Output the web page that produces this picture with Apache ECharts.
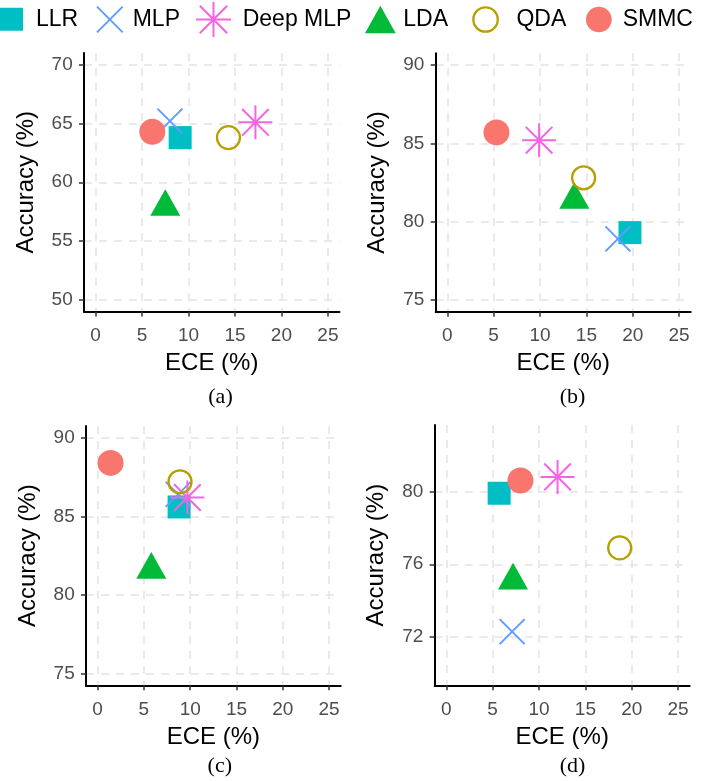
<!DOCTYPE html>
<html><head><meta charset="utf-8">
<script src="https://cdn.jsdelivr.net/npm/echarts@6/dist/echarts.min.js"></script>
<style>html,body{margin:0;padding:0;background:#fff}#c{width:706px;height:781px}</style>
</head><body><div id="c"></div>
<script>
// ---- data ----
const methods = ['LLR', 'MLP', 'Deep MLP', 'LDA', 'QDA', 'SMMC'];
const eceA = [9.1, 8.0, 17.2, 7.5, 14.3, 6.1];
const accA = [63.8, 65.2, 65.1, 57.9, 63.8, 64.3];
const eceB = [19.7, 18.4, 9.9, 13.7, 14.7, 5.3];
const accB = [79.3, 78.9, 85.2, 81.4, 82.8, 85.7];
const eceC = [8.8, 8.7, 9.7, 5.8, 8.9, 1.4];
const accC = [85.6, 86.4, 86.2, 81.6, 87.2, 88.4];
const eceD = [5.7, 7.1, 12.0, 7.2, 18.7, 8.0];
const accD = [79.9, 72.3, 80.8, 75.1, 76.9, 80.6];
const xTicks = [0, 5, 10, 15, 20, 25];
const xLim = [0, 25];
const yTicksA = [50, 55, 60, 65, 70];
const yLimA = [50, 70];
const yTicksB = [75, 80, 85, 90];
const yLimB = [75, 90];
const yTicksC = [75, 80, 85, 90];
const yLimC = [75, 90];
const yTicksD = [72, 76, 80];
const yLimD = [70, 83];
const captions = ['(a)', '(b)', '(c)', '(d)'];

// ---- styles ----
const colors = ['#00BFC4', '#619CFF', '#F564E3', '#00BA38', '#B79F00', '#F8766D'];
const symbols = [
  {symbol: 'path://M0 0L23 0L23 23L0 23Z', size: 23, fill: true, keep: true},
  {symbol: 'path://M0 0L24 24M24 0L0 24', size: 25, stroke: 2, keep: true},
  {symbol: 'path://M0 17L34 17M17 0L17 34M3.7 3.7L30.3 30.3M30.3 3.7L3.7 30.3', size: 34, stroke: 2, keep: true},
  {symbol: 'path://M15 0L30 26.7L0 26.7Z', size: 30, fill: true, offset: [0, -4.45], keep: true},
  {symbol: 'circle', size: 23, stroke: 2.3},
  {symbol: 'circle', size: 26, fill: true}
];
const FONT = '"Liberation Sans", Arial, Helvetica, sans-serif';
const grids = [
  {left: 84, top: 53, width: 255.5, height: 258.5},
  {left: 435.7, top: 53.3, width: 255, height: 258.4},
  {left: 86, top: 426, width: 254.7, height: 259.3},
  {left: 434.7, top: 425, width: 255, height: 260.3}
];
const captionPos = [[220.5, 397], [572.5, 397], [219.8, 766.7], [572.5, 766.7]];
// left edge of icon, icon box width, drawn height (incl. stroke), text padding
const legendPos = [
  {left: 0, size: 23, h: 23.5, pad: 8},
  {left: 96, size: 25.7, h: 27.7, pad: 5},
  {left: 195, size: 35, h: 37, pad: 6.7},
  {left: 365, size: 30.7, h: 27.3, pad: 2.6},
  {left: 472.2, size: 24.4, h: 26.7, pad: 13.7},
  {left: 586, size: 25.7, h: 25.7, pad: 6}
];
const LEGEND_H = 35;

const panels = [
  {ece: eceA, acc: accA, yTicks: yTicksA, yLim: yLimA},
  {ece: eceB, acc: accB, yTicks: yTicksB, yLim: yLimB},
  {ece: eceC, acc: accC, yTicks: yTicksC, yLim: yLimC},
  {ece: eceD, acc: accD, yTicks: yTicksD, yLim: yLimD}
];
const expand = lim => [lim[0] - 0.05 * (lim[1] - lim[0]), lim[1] + 0.05 * (lim[1] - lim[0])];

const splitLine = {show: true, lineStyle: {color: '#E3E3E3', width: 1.5, type: [8, 7]}};
const axisLine = {show: true, onZero: false, lineStyle: {color: '#000', width: 2}};
const axisTickBase = {show: true, length: 5, inside: false, lineStyle: {color: '#333', width: 1.5}};

const xAxis = [], yAxis = [], series = [], graphic = [], legend = [];
panels.forEach((p, k) => {
  const xr = expand(xLim), yr = expand(p.yLim);
  xAxis.push({
    type: 'value', gridIndex: k, min: xr[0], max: xr[1],
    axisLine, splitLine,
    axisTick: Object.assign({customValues: xTicks}, axisTickBase),
    axisLabel: {customValues: xTicks, color: '#4D4D4D', fontSize: 19, fontFamily: FONT, margin: 14.5},
    name: 'ECE (%)', nameLocation: 'middle', nameGap: 40,
    nameTextStyle: {color: '#000', fontSize: 24, fontFamily: FONT}
  });
  yAxis.push({
    type: 'value', gridIndex: k, min: yr[0], max: yr[1],
    axisLine, splitLine,
    axisTick: Object.assign({customValues: p.yTicks}, axisTickBase),
    axisLabel: {customValues: p.yTicks, color: '#4D4D4D', fontSize: 19, fontFamily: FONT, margin: 11.3},
    name: 'Accuracy (%)', nameLocation: 'middle', nameGap: 46, nameRotate: 90,
    nameTextStyle: {color: '#000', fontSize: 24, fontFamily: FONT}
  });
  methods.forEach((m, i) => {
    const s = symbols[i];
    series.push({
      type: 'scatter', name: m, xAxisIndex: k, yAxisIndex: k,
      data: [[p.ece[i], p.acc[i]]],
      symbol: s.symbol, symbolSize: s.size, symbolKeepAspect: !!s.keep,
      symbolOffset: s.offset || [0, 0],
      itemStyle: s.fill ? {color: colors[i], opacity: 1}
                        : {color: 'rgba(0,0,0,0)', borderColor: colors[i], borderWidth: s.stroke, opacity: 1},
      emphasis: {disabled: true}, z: 2 + i
    });
  });
  graphic.push({
    type: 'text', x: captionPos[k][0], y: captionPos[k][1],
    style: {text: captions[k], font: '22px "Liberation Serif", "Times New Roman", serif',
            fill: '#000', align: 'center', verticalAlign: 'middle'}
  });
});

methods.forEach((m, i) => {
  const lp = legendPos[i], s = symbols[i];
  legend.push({
    data: [m], left: lp.left, top: 19.5 - lp.h / 2, padding: 0,
    itemWidth: lp.size, itemHeight: LEGEND_H, symbolKeepAspect: true,
    selectedMode: false, orient: 'horizontal',
    itemStyle: s.fill ? {borderWidth: 0} : {borderWidth: s.stroke},
    textStyle: {color: '#000', fontSize: 23, fontFamily: FONT, padding: [0, 0, 0, lp.pad]}
  });
});

const chart = echarts.init(document.getElementById('c'), null, {renderer: 'canvas'});
chart.setOption({
  animation: false,
  backgroundColor: '#fff',
  textStyle: {fontFamily: FONT},
  grid: grids.map(g => Object.assign({outerBoundsMode: 'none', containLabel: false}, g)),
  legend, xAxis, yAxis, series, graphic
});
</script></body></html>
